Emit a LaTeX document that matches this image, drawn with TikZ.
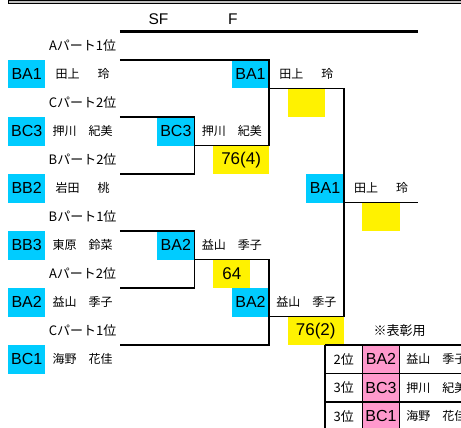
\documentclass[tikz,border=0pt]{standalone}
\usepackage{fontspec}
\setmainfont{Liberation Sans}
\newfontfamily\jp{Noto Sans CJK JP}
\definecolor{cyanbox}{HTML}{00CCFF}
\definecolor{ylw}{HTML}{FFF200}
\definecolor{pnk}{HTML}{FF99CC}
\definecolor{band}{HTML}{C0C0C0}
\begin{document}
\begin{tikzpicture}[x=18.65pt,y=-28.5pt,
  cell/.style={inner sep=0pt, minimum height=28.5pt},
  codebox/.style={cell, minimum width=37.3pt, font=\fontsize{16}{16}\selectfont},
  cyancode/.style={codebox, fill=cyanbox},
  pinkcode/.style={codebox, fill=pnk},
  score/.style={cell, fill=ylw, font=\fontsize{17}{17}\selectfont},
  nm/.style={inner sep=0pt, font=\jp\fontsize{12}{12}\selectfont},
  lbl/.style={inner sep=0pt, font=\jp\fontsize{13}{13}\selectfont},
  head/.style={inner sep=0pt, font=\fontsize{15.5}{15.5}\selectfont},
  br/.style={line width=1.6pt},
]
\useasboundingbox (-8pt,3pt) rectangle (453pt,-425pt);
\clip (-8pt,3pt) rectangle (453pt,-425pt);
% top band
\fill[band] (1pt,3pt) rectangle (453pt,-0.3pt);
\draw[line width=0.8pt] (1pt,2.6pt) -- (453pt,2.6pt);
\draw[line width=1pt] (1pt,-0.3pt) -- (453pt,-0.3pt);
\draw[line width=1.3pt] (0.6pt,3pt) -- (0.6pt,-0.8pt);
% headers
\node[head] (hsf) at (8.07,0.55) {SF};
\node[head] (hf) at (12.06,0.55) {F};
% yellow score cells
\node[score, minimum width=37.3pt] (y1) at (16,3.5) {};
\node[score, minimum width=55.95pt] (y2) at (12.5,5.5) {76(4)};
\node[score, minimum width=37.3pt] (y3) at (12,9.5) {64};
\node[score, minimum width=55.95pt] (y4) at (16.5,11.5) {76(2)};
\node[score, minimum width=37.3pt] (y5) at (20,7.5) {};
% left column
\node[lbl] (l1) at (4,1.5) {Aパート1位};
\node[cyancode] (c1) at (1,2.5) {BA1};
\node[nm] (n1) at (4,2.5) {田上\hspace{1.5em}玲};
\node[lbl] (l2) at (4,3.5) {Cパート2位};
\node[cyancode] (c2) at (1,4.5) {BC3};
\node[nm] (n2) at (4,4.5) {押川　紀美};
\node[lbl] (l3) at (4,5.5) {Bパート2位};
\node[cyancode] (c3) at (1,6.5) {BB2};
\node[nm] (n3) at (4,6.5) {岩田\hspace{1.5em}桃};
\node[lbl] (l4) at (4,7.5) {Bパート1位};
\node[cyancode] (c4) at (1,8.5) {BB3};
\node[nm] (n4) at (4,8.5) {東原　鈴菜};
\node[lbl] (l5) at (4,9.5) {Aパート2位};
\node[cyancode] (c5) at (1,10.5) {BA2};
\node[nm] (n5) at (4,10.5) {益山　季子};
\node[lbl] (l6) at (4,11.5) {Cパート1位};
\node[cyancode] (c6) at (1,12.5) {BC1};
\node[nm] (n6) at (4,12.5) {海野　花佳};
% SF winners
\node[cyancode] (s1) at (9,4.5) {BC3};
\node[nm] (sn1) at (12,4.5) {押川　紀美};
\node[cyancode] (s2) at (9,8.5) {BA2};
\node[nm] (sn2) at (12,8.5) {益山　季子};
% F winners
\node[cyancode] (f1) at (13,2.5) {BA1};
\node[nm] (fn1) at (16,2.5) {田上\hspace{1.5em}玲};
\node[cyancode] (f2) at (13,10.5) {BA2};
\node[nm] (fn2) at (16,10.5) {益山　季子};
% champion
\node[cyancode] (w) at (17,6.5) {BA1};
\node[nm] (wn) at (20,6.5) {田上\hspace{1.5em}玲};
% award table
\node[lbl] (note) at (21,11.5) {※表彰用};
\node[pinkcode] (t1) at (20,12.5) {BA2};
\node[pinkcode] (t2) at (20,13.5) {BC3};
\node[pinkcode] (t3) at (20,14.5) {BC1};
\node[lbl] (r1) at (18,12.5) {2位};
\node[lbl] (r2) at (18,13.5) {3位};
\node[lbl] (r3) at (18,14.5) {3位};
\node[nm, anchor=west] (tn1) at (21.35,12.5) {益山　季子};
\node[nm, anchor=west] (tn2) at (21.35,13.5) {押川　紀美};
\node[nm, anchor=west] (tn3) at (21.35,14.5) {海野　花佳};
% header rule
\draw[line width=2.6pt] (6,1) -- (22,1);
% bracket corners
\coordinate (a1) at (6,2);  \coordinate (a2) at (14,2);
\coordinate (a3) at (14,5); \coordinate (b1) at (6,4);
\coordinate (b2) at (10,4); \coordinate (b3) at (10,6);
\coordinate (b4) at (6,6);  \coordinate (b5) at (10,5);
\coordinate (d1) at (14,3); \coordinate (d2) at (18,3);
\coordinate (d3) at (18,11);\coordinate (e1) at (18,7);
\coordinate (e2) at (22,7); \coordinate (g1) at (6,8);
\coordinate (g2) at (10,8); \coordinate (g3) at (10,10);
\coordinate (g4) at (6,10); \coordinate (g5) at (10,9);
\coordinate (h1) at (14,9); \coordinate (h2) at (14,12);
\coordinate (h3) at (6,12); \coordinate (h4) at (14,11);
\draw[br] (a1) -- (a2) -- (a3);
\draw[br] (b1) -- (b2) -- (b3) -- (b4);
\draw[br] (b5) -- (a3);
\draw[br] (d1) -- (d2) -- (d3);
\draw[br] (e1) -- (e2);
\draw[br] (g1) -- (g2) -- (g3) -- (g4);
\draw[br] (g5) -- (h1) -- (h2) -- (h3);
\draw[br] (h4) -- (d3);
% table grid
\foreach \r in {12,13,14,15} \draw[br] (17,\r) -- (25,\r);
\foreach \c in {17,19,21} \draw[br] (\c,12) -- (\c,15);
\end{tikzpicture}
\end{document}
